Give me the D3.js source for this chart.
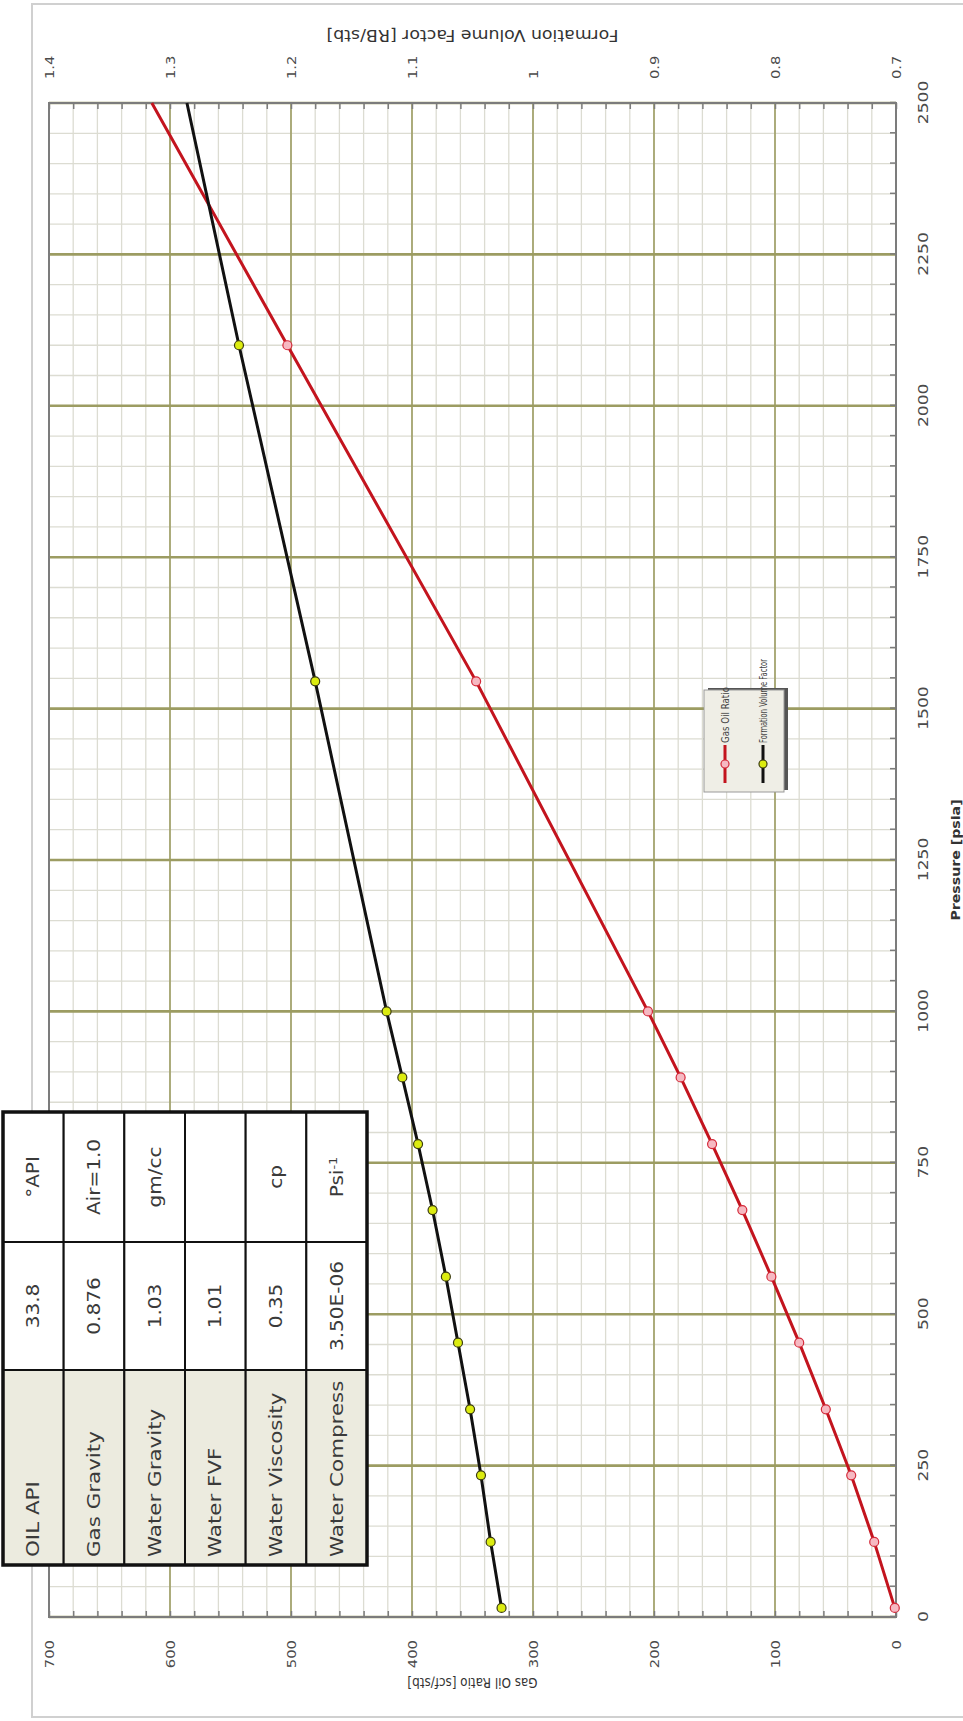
<!DOCTYPE html>
<html>
<head>
<meta charset="utf-8">
<script src="https://cdn.jsdelivr.net/npm/d3@7"></script>
<style>
  body { margin: 0; background: #fff; }
  svg { display: block; font-family: "DejaVu Sans", Verdana, sans-serif; }
</style>
</head>
<body>
<div id="chart"></div>
<script>
// measured points (pressure psia, GOR scf/stb, FVF RB/stb)
const pressure = [15, 124, 234, 343, 453, 562, 672, 781, 891, 1000, 1545, 2100];
const gasOilRatio = [1, 18, 37, 58, 80, 103, 127, 152, 178, 205, 347, 503];
const fvf = [1.026, 1.035, 1.043, 1.052, 1.062, 1.072, 1.083, 1.095, 1.108, 1.121, 1.180, 1.243];
// both lines carry on (no marker) up to the edge of the plot
const lineEndPressure = 2500;
const lineEndGor = 615;
const lineEndFvf = 1.286;

const pressureTicks = [0, 250, 500, 750, 1000, 1250, 1500, 1750, 2000, 2250, 2500];
const gorTicks = [0, 100, 200, 300, 400, 500, 600, 700];
const fvfTicks = [0.7, 0.8, 0.9, 1.0, 1.1, 1.2, 1.3, 1.4];

const legendNames = ["Gas Oil Ratio", "Formation Volume Factor"];

const tableNames = ["OIL API", "Gas Gravity", "Water Gravity", "Water FVF", "Water Viscosity", "Water Compress"];
const tableValues = ["33.8", "0.876", "1.03", "1.01", "0.35", "3.50E-06"];
const tableUnits = ["°API", "Air=1.0", "gm/cc", "", "cp", "Psi"];

// the chart is drawn upright in a 1721 x 963 frame and turned a quarter turn
const W = 1721, H = 963;
const SX = 1.18;   // text in the picture is a bit stretched along the pressure direction
const FONT = "'DejaVu Sans', Verdana, sans-serif";
const plot = { x0: 104, x1: 1618, y0: 49, y1: 896 };

const svg = d3.select("#chart").append("svg")
    .attr("width", H)
    .attr("height", W);

svg.append("rect")
    .attr("x", 32).attr("y", 4)
    .attr("width", 960).attr("height", 1713)
    .attr("fill", "#fff")
    .attr("stroke", "#d0d0d0")
    .attr("stroke-width", 2);

const g = svg.append("g").attr("transform", `translate(0,${W}) rotate(-90)`);

const x = d3.scaleLinear().domain([0, 2500]).range([plot.x0, plot.x1]);
const yGor = d3.scaleLinear().domain([0, 700]).range([plot.y1, plot.y0]);
const yFvf = d3.scaleLinear().domain([0.7, 1.4]).range([plot.y1, plot.y0]);

// grid
const grid = g.append("g");
grid.selectAll(".vmin").data(d3.range(0, 2501, 50)).join("line")
    .attr("x1", d => x(d)).attr("x2", d => x(d))
    .attr("y1", plot.y0).attr("y2", plot.y1)
    .attr("stroke", "#dcdcd2").attr("stroke-width", 1.3);
grid.selectAll(".hmin").data(d3.range(0, 701, 20)).join("line")
    .attr("x1", plot.x0).attr("x2", plot.x1)
    .attr("y1", d => yGor(d)).attr("y2", d => yGor(d))
    .attr("stroke", "#dcdcd2").attr("stroke-width", 1.3);
grid.selectAll(".vmaj").data(pressureTicks).join("line")
    .attr("x1", d => x(d)).attr("x2", d => x(d))
    .attr("y1", plot.y0).attr("y2", plot.y1)
    .attr("stroke", "#9c9c62").attr("stroke-width", 2.6);
grid.selectAll(".hmaj").data(gorTicks).join("line")
    .attr("x1", plot.x0).attr("x2", plot.x1)
    .attr("y1", d => yGor(d)).attr("y2", d => yGor(d))
    .attr("stroke", "#9c9c62").attr("stroke-width", 1.6);

g.append("rect")
    .attr("x", plot.x0).attr("y", plot.y0)
    .attr("width", plot.x1 - plot.x0).attr("height", plot.y1 - plot.y0)
    .attr("fill", "none").attr("stroke", "#7c7c7c").attr("stroke-width", 2);

function styleAxis(ax, tx) {
    ax.select(".domain").remove();
    ax.selectAll(".tick line").attr("stroke", "#7c7c7c").attr("stroke-width", 1.5);
    ax.selectAll(".tick text")
        .attr("x", null).attr("y", null).attr("dy", "0.35em")
        .attr("fill", "#4a4a4a")
        .attr("font-family", FONT)
        .attr("transform", tx);
}

// pressure axis
const axP = g.append("g").attr("transform", `translate(0,${plot.y1})`)
    .call(d3.axisBottom(x).tickValues(d3.range(0, 2501, 50)).tickSize(-6).tickSizeOuter(0)
        .tickFormat(d => d % 250 === 0 ? d : ""));
axP.selectAll(".tick text").attr("font-size", 14.5);
styleAxis(axP, `translate(0,27) scale(${SX},1)`);

// gas oil ratio axis
const axG = g.append("g").attr("transform", `translate(${plot.x0},0)`)
    .call(d3.axisLeft(yGor).tickValues(d3.range(0, 701, 20)).tickSize(-6).tickSizeOuter(0)
        .tickFormat(d => d % 100 === 0 ? d : ""));
axG.selectAll(".tick text").attr("font-size", 12.5);
styleAxis(axG, `translate(-23,0) scale(${SX},1)`);

// formation volume factor axis
const axF = g.append("g").attr("transform", `translate(${plot.x1},0)`)
    .call(d3.axisRight(yFvf).tickValues(d3.range(0, 36).map(i => 0.7 + i * 0.02)).tickSize(-6).tickSizeOuter(0)
        .tickFormat(d => fvfTicks.some(t => Math.abs(t - d) < 1e-6) ? d3.format("~g")(+d.toFixed(2)) : ""));
axF.selectAll(".tick text").attr("font-size", 12.5);
styleAxis(axF, `translate(24,0) scale(${SX},1)`);

// axis titles
g.append("text")
    .attr("transform", `translate(${(plot.x0 + plot.x1) / 2},956) scale(${SX},1)`)
    .attr("text-anchor", "middle").attr("dy", "0.35em")
    .attr("font-size", 12).attr("font-weight", "bold").attr("fill", "#333")
    .text("Pressure [psia]");
g.append("text")
    .attr("transform", `translate(38,${(plot.y0 + plot.y1) / 2}) scale(${SX},1) rotate(-90)`)
    .attr("text-anchor", "middle").attr("dy", "0.35em")
    .attr("font-size", 12).attr("fill", "#333")
    .text("Gas Oil Ratio [scf/stb]");
g.append("text")
    .attr("transform", `translate(1686,${(plot.y0 + plot.y1) / 2}) scale(${SX},1) rotate(-90)`)
    .attr("text-anchor", "middle").attr("dy", "0.35em")
    .attr("font-size", 13).attr("fill", "#333")
    .attr("textLength", 292).attr("lengthAdjust", "spacingAndGlyphs")
    .text("Formation Volume Factor [RB/stb]");

// series
const gorPts = pressure.map((p, i) => ({ p, v: gasOilRatio[i] }));
const fvfPts = pressure.map((p, i) => ({ p, v: fvf[i] }));
const gorLine = gorPts.concat([{ p: lineEndPressure, v: lineEndGor }]);
const fvfLine = fvfPts.concat([{ p: lineEndPressure, v: lineEndFvf }]);

g.append("path").datum(gorLine)
    .attr("fill", "none").attr("stroke", "#c3141e").attr("stroke-width", 3)
    .attr("d", d3.line().x(d => x(d.p)).y(d => yGor(d.v)));
g.append("path").datum(fvfLine)
    .attr("fill", "none").attr("stroke", "#111").attr("stroke-width", 3)
    .attr("d", d3.line().x(d => x(d.p)).y(d => yFvf(d.v)));

g.selectAll(".gorpt").data(gorPts).join("circle")
    .attr("cx", d => x(d.p)).attr("cy", d => yGor(d.v)).attr("r", 4.5)
    .attr("fill", "#f6b9c2").attr("stroke", "#d42a3a").attr("stroke-width", 1.2);
g.selectAll(".fvfpt").data(fvfPts).join("circle")
    .attr("cx", d => x(d.p)).attr("cy", d => yFvf(d.v)).attr("r", 4.5)
    .attr("fill", "#dcec10").attr("stroke", "#3a3a10").attr("stroke-width", 1.2);

// legend
const lg = g.append("g").attr("transform", "translate(929,704)");
lg.append("rect").attr("x", 2).attr("y", 4).attr("width", 102).attr("height", 80).attr("fill", "#555");
lg.append("rect").attr("width", 102).attr("height", 80)
    .attr("fill", "#efeee6").attr("stroke", "#9a9a9a");
const legendColors = [["#c3141e", "#f6b9c2", "#d42a3a"], ["#111", "#dcec10", "#3a3a10"]];
const legendLen = [56, 84];
legendNames.forEach((name, i) => {
    const yy = 21 + i * 38;
    lg.append("line").attr("x1", 9).attr("x2", 47).attr("y1", yy).attr("y2", yy)
        .attr("stroke", legendColors[i][0]).attr("stroke-width", 3);
    lg.append("circle").attr("cx", 28).attr("cy", yy).attr("r", 4)
        .attr("fill", legendColors[i][1]).attr("stroke", legendColors[i][2]).attr("stroke-width", 1.2);
    lg.append("text")
        .attr("x", 49).attr("y", yy)
        .attr("dy", "0.35em").attr("font-size", 11).attr("fill", "#444")
        .attr("textLength", legendLen[i]).attr("lengthAdjust", "spacingAndGlyphs")
        .text(name);
});

// properties table
const tb = g.append("g");
const rowY = d3.scaleBand().domain(tableNames).range([3, 367]);
const cols = [[156, 351], [351, 479], [479, 609]];
tb.selectAll(".namecell").data(tableNames).join("rect")
    .attr("x", cols[0][0]).attr("y", d => rowY(d))
    .attr("width", cols[0][1] - cols[0][0]).attr("height", rowY.bandwidth())
    .attr("fill", "#ecebdf").attr("stroke", "#111").attr("stroke-width", 2);
[1, 2].forEach(c => {
    tb.selectAll(".cell" + c).data(tableNames).join("rect")
        .attr("x", cols[c][0]).attr("y", d => rowY(d))
        .attr("width", cols[c][1] - cols[c][0]).attr("height", rowY.bandwidth())
        .attr("fill", "#fff").attr("stroke", "#111").attr("stroke-width", 2);
});
tb.append("rect").attr("x", cols[0][0]).attr("y", 3)
    .attr("width", cols[2][1] - cols[0][0]).attr("height", 364)
    .attr("fill", "none").attr("stroke", "#111").attr("stroke-width", 3.5);

tb.selectAll(".nametext").data(tableNames).join("text")
    .attr("transform", d => `translate(164,${rowY(d) + rowY.bandwidth() / 2}) scale(1.26,1)`)
    .attr("dy", "0.35em").attr("font-size", 17).attr("fill", "#3a3a3a")
    .text(d => d);
tb.selectAll(".valtext").data(tableNames).join("text")
    .attr("transform", d => `translate(${(cols[1][0] + cols[1][1]) / 2},${rowY(d) + rowY.bandwidth() / 2}) scale(${SX},1)`)
    .attr("text-anchor", "middle").attr("dy", "0.35em").attr("font-size", 17).attr("fill", "#3a3a3a")
    .text((d, i) => tableValues[i]);
tb.selectAll(".unittext").data(tableNames).join("text")
    .attr("transform", d => `translate(${(cols[2][0] + cols[2][1]) / 2},${rowY(d) + rowY.bandwidth() / 2}) scale(${SX},1)`)
    .attr("text-anchor", "middle").attr("dy", "0.35em").attr("font-size", 17).attr("fill", "#3a3a3a")
    .each(function (d, i) {
        const t = d3.select(this);
        t.text(tableUnits[i]);
        if (tableUnits[i] === "Psi") {
            t.append("tspan").attr("dy", "-0.5em").attr("font-size", 11).text("-1");
        }
    });
</script>
</body>
</html>
